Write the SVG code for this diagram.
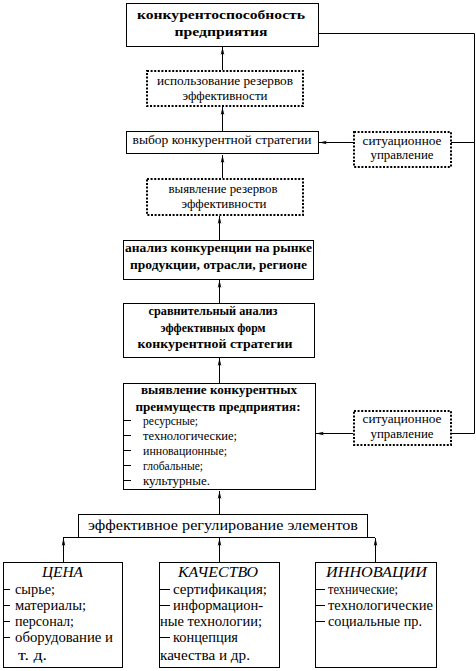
<svg xmlns="http://www.w3.org/2000/svg" width="476" height="671" viewBox="0 0 476 671">
<defs>
<marker id="ah" markerUnits="userSpaceOnUse" markerWidth="10" markerHeight="8" refX="8" refY="3" orient="auto">
<path d="M0,1.2 L8,3 L0,4.8 L2,3 z" fill="#000"/>
</marker>
<style>
.b{fill:#fff;stroke:#000;stroke-width:1}
.d{fill:#fff;stroke:#000;stroke-width:2;stroke-dasharray:2 1.6}
.l{fill:none;stroke:#000;stroke-width:1}
.a{fill:none;stroke:#000;stroke-width:1;marker-end:url(#ah)}
text{fill:#000}
.r{font-size:13px}
.s{font-size:14px}
.bo{font-size:13px;font-weight:bold}
.it{font-size:15px;font-style:italic}
.m{text-anchor:middle}
</style>
</defs>
<rect width="476" height="671" fill="#fff"/>

<g id="connectors">
<path class="a" d="M222.5,70 V47"/>
<path class="a" d="M222.5,131 V107"/>
<path class="a" d="M222.5,178 V155"/>
<path class="a" d="M219.5,240 V216"/>
<path class="a" d="M219.5,303 V280"/>
<path class="a" d="M219.5,383 V358"/>
<path class="a" d="M219.5,514 V491"/>
<path class="l" d="M63,537.5 H375"/>
<path class="a" d="M63.5,562 V538"/>
<path class="a" d="M219.5,562 V538"/>
<path class="a" d="M375.5,562 V538"/>
<path class="l" d="M318,33.5 H474.5 V433.5 H452"/>
<path class="l" d="M451,142.5 H474"/>
<path class="a" d="M353,142.5 H319"/>
<path class="a" d="M353,433.5 H316"/>
</g>

<g font-family="Liberation Serif, Times New Roman, DejaVu Serif, serif">
<g id="n-top">
<rect class="b" x="126.5" y="3.5" width="192" height="43"/>
<text class="bo m" x="221" y="19" textLength="168" lengthAdjust="spacingAndGlyphs">конкурентоспособность</text>
<text class="bo m" x="221" y="36" textLength="93" lengthAdjust="spacingAndGlyphs">предприятия</text>
</g>

<g id="n-use">
<rect class="d" x="147" y="71" width="156" height="35"/>
<text class="r m" x="225" y="85" textLength="136" lengthAdjust="spacingAndGlyphs">использование резервов</text>
<text class="r m" x="225" y="100" textLength="85" lengthAdjust="spacingAndGlyphs">эффективности</text>
</g>

<g id="n-choice">
<rect class="b" x="126.5" y="131.5" width="192" height="22"/>
<text class="r m" x="222" y="144" textLength="179" lengthAdjust="spacingAndGlyphs">выбор конкурентной стратегии</text>
</g>

<g id="n-sit1">
<rect class="d" x="354" y="132" width="97" height="35"/>
<text class="r m" x="402" y="145" textLength="79" lengthAdjust="spacingAndGlyphs">ситуационное</text>
<text class="r m" x="402" y="159" textLength="63" lengthAdjust="spacingAndGlyphs">управление</text>
</g>

<g id="n-reveal">
<rect class="d" x="147" y="179" width="156" height="36"/>
<text class="r m" x="223" y="193" textLength="109" lengthAdjust="spacingAndGlyphs">выявление резервов</text>
<text class="r m" x="224" y="208" textLength="85" lengthAdjust="spacingAndGlyphs">эффективности</text>
</g>

<g id="n-analysis">
<rect class="b" x="123.5" y="240.5" width="190" height="39"/>
<text class="bo m" x="218.5" y="252" textLength="187" lengthAdjust="spacingAndGlyphs">анализ конкуренции на рынке</text>
<text class="bo m" x="218.5" y="269" textLength="177" lengthAdjust="spacingAndGlyphs">продукции, отрасли, регионе</text>
</g>

<g id="n-compare">
<rect class="b" x="123.5" y="303.5" width="191" height="54"/>
<text class="bo m" x="213" y="315" textLength="129" lengthAdjust="spacingAndGlyphs">сравнительный анализ</text>
<text class="bo m" x="213" y="332" textLength="105" lengthAdjust="spacingAndGlyphs">эффективных форм</text>
<text class="bo m" x="215" y="348" textLength="155" lengthAdjust="spacingAndGlyphs">конкурентной стратегии</text>
</g>

<g id="n-advantages">
<rect class="b" x="123.5" y="383.5" width="192" height="106"/>
<text class="bo m" x="219" y="394" textLength="156" lengthAdjust="spacingAndGlyphs">выявление конкурентных</text>
<text class="bo m" x="218" y="411" textLength="165" lengthAdjust="spacingAndGlyphs">преимуществ предприятия:</text>
<path class="l" d="M123,420.5 H131 M123,435.5 H131 M123,450.5 H131 M123,465.5 H131 M123,480.5 H131"/>
<text class="r" x="143" y="425" textLength="55" lengthAdjust="spacingAndGlyphs">ресурсные;</text>
<text class="r" x="143" y="440" textLength="94" lengthAdjust="spacingAndGlyphs">технологические;</text>
<text class="r" x="143" y="455" textLength="84" lengthAdjust="spacingAndGlyphs">инновационные;</text>
<text class="r" x="143" y="470" textLength="60" lengthAdjust="spacingAndGlyphs">глобальные;</text>
<text class="r" x="143" y="485" textLength="67" lengthAdjust="spacingAndGlyphs">культурные.</text>
</g>

<g id="n-sit2">
<rect class="d" x="354" y="411" width="97" height="34"/>
<text class="r m" x="402" y="423" textLength="79" lengthAdjust="spacingAndGlyphs">ситуационное</text>
<text class="r m" x="402" y="438" textLength="63" lengthAdjust="spacingAndGlyphs">управление</text>
</g>

<g id="n-regulation">
<rect class="b" x="78.5" y="514.5" width="289" height="23"/>
<text class="s m" x="223" y="530" textLength="270" lengthAdjust="spacingAndGlyphs">эффективное регулирование элементов</text>
</g>

<g id="n-price">
<rect class="b" x="3.5" y="562.5" width="119" height="105"/>
<text class="it m" x="62.5" y="577" textLength="41" lengthAdjust="spacingAndGlyphs">ЦЕНА</text>
<path class="l" d="M3,589.5 H10 M3,605.5 H10 M3,621.5 H10 M3,637.5 H10"/>
<text class="s" x="15" y="594" textLength="40" lengthAdjust="spacingAndGlyphs">сырье;</text>
<text class="s" x="15" y="610" textLength="71" lengthAdjust="spacingAndGlyphs">материалы;</text>
<text class="s" x="15" y="626" textLength="59" lengthAdjust="spacingAndGlyphs">персонал;</text>
<text class="s" x="15" y="642" textLength="98" lengthAdjust="spacingAndGlyphs">оборудование и</text>
<text class="s" x="18" y="660" textLength="29" lengthAdjust="spacingAndGlyphs">т. д.</text>
</g>

<g id="n-quality">
<rect class="b" x="159.5" y="562.5" width="120" height="105"/>
<text class="it m" x="218" y="577" textLength="80" lengthAdjust="spacingAndGlyphs">КАЧЕСТВО</text>
<path class="l" d="M159,589.5 H170 M159,605.5 H170 M159,637.5 H170"/>
<text class="s" x="173" y="594" textLength="94" lengthAdjust="spacingAndGlyphs">сертификация;</text>
<text class="s" x="173" y="610" textLength="90" lengthAdjust="spacingAndGlyphs">информацион-</text>
<text class="s" x="160" y="626" textLength="102" lengthAdjust="spacingAndGlyphs">ные технологии;</text>
<text class="s" x="173" y="642" textLength="65" lengthAdjust="spacingAndGlyphs">концепция</text>
<text class="s" x="160" y="660" textLength="90" lengthAdjust="spacingAndGlyphs">качества и др.</text>
</g>

<g id="n-innovation">
<rect class="b" x="315.5" y="562.5" width="121" height="105"/>
<text class="it m" x="376.5" y="577" textLength="101" lengthAdjust="spacingAndGlyphs">ИННОВАЦИИ</text>
<path class="l" d="M315,589.5 H325 M315,605.5 H325 M315,621.5 H325"/>
<text class="s" x="328" y="594" textLength="70" lengthAdjust="spacingAndGlyphs">технические;</text>
<text class="s" x="328" y="610" textLength="105" lengthAdjust="spacingAndGlyphs">технологические</text>
<text class="s" x="328" y="626" textLength="94" lengthAdjust="spacingAndGlyphs">социальные пр.</text>
</g>
</g>
</svg>
